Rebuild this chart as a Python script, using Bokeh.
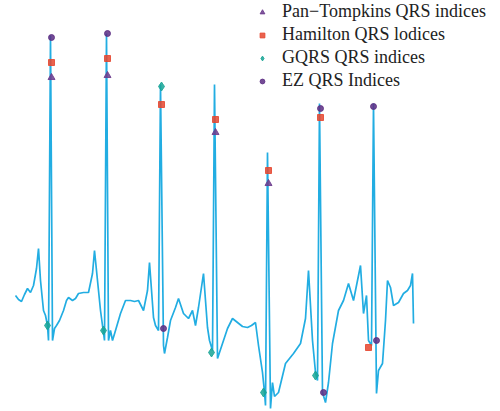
from bokeh.plotting import figure
from bokeh.models import Range1d, Legend, LegendItem
from bokeh.embed import file_html
from bokeh.resources import INLINE

# ECG trace: sample index and amplitude (mV)
ecg_t = [15, 18, 21, 24, 27, 30, 33, 36, 38, 40, 43, 45, 47, 48, 50, 52, 54, 56, 59, 63,
         66, 68, 72, 75, 78, 83, 88, 92, 94, 97, 100, 102, 104, 106, 108, 110, 112, 115, 120, 125,
         130, 134, 138, 143, 147, 149, 153, 155, 158, 160, 163, 164, 167, 170, 175, 178, 183, 188, 192, 195,
         198, 203, 207, 209, 212, 214, 217, 222, 227, 232, 237, 242, 247, 251, 255, 258, 262, 264, 265, 267,
         270, 272, 274, 278, 285, 293, 300, 305, 308, 312, 315, 317, 319, 322, 325, 328, 332, 338, 343, 348,
         353, 357, 360, 363, 366, 368, 371, 373, 376, 378, 382, 385, 387, 390, 393, 398, 403, 407, 410, 412,
         413]
ecg_mv = [0.05, 0.01, -0.01, 0.06, 0.12, 0.08, 0.15, 0.32, 0.52, 0.20, -0.10, -0.15, -0.25, -0.40, 2.65, -0.40, -0.28, -0.25, -0.20, -0.10,
          0.00, 0.03, 0.00, 0.02, 0.07, 0.08, 0.08, 0.27, 0.50, 0.20, -0.10, -0.25, -0.40, 2.67, -0.40, -0.30, -0.40, -0.30, -0.13, 0.00,
          0.00, -0.01, 0.00, -0.10, 0.10, 0.38, -0.17, -0.25, -0.30, 2.16, -0.45, -0.53, -0.37, -0.20, -0.07, 0.02, -0.13, -0.18, -0.10, -0.25,
          -0.07, 0.27, -0.27, -0.40, -0.50, 2.16, -0.58, -0.43, -0.28, -0.18, -0.22, -0.26, -0.27, -0.25, -0.22, -0.45, -0.72, -0.92, -1.05, 1.48,
          -1.08, -0.82, -0.96, -0.92, -0.63, -0.53, -0.43, -0.18, 0.30, -0.40, -0.72, -0.80, 1.97, -0.92, -1.02, -0.82, -0.43, -0.10, 0.00, 0.17,
          0.00, 0.20, 0.35, -0.13, 0.05, -0.40, -0.45, 1.97, -0.93, -0.70, -0.63, -0.20, 0.20, 0.13, -0.05, -0.02, 0.07, 0.10, 0.15, 0.27,
          -0.23]

# Detector outputs (sample index, amplitude at which the mark is drawn)
pt_t = [51, 107, 215, 268]
pt_mv = [2.23, 2.25, 1.68, 1.17]

ham_t = [51, 107, 161, 215, 268, 320, 368]
ham_mv = [2.38, 2.42, 1.96, 1.81, 1.30, 1.83, -0.47]

gqrs_t = [161, 47, 103, 211, 263, 315]
gqrs_mv = [2.14, -0.25, -0.30, -0.52, -0.92, -0.75]

ez_t = [51, 107, 320, 373, 163, 323, 376]
ez_mv = [2.63, 2.67, 1.92, 1.94, -0.28, -0.92, -0.40]

labels = ["Pan\u2212Tompkins QRS indices", "Hamilton QRS lodices", "GQRS QRS indices", "EZ QRS Indices"]

p = figure(width=500, height=411, output_backend="svg", toolbar_location=None,
           x_range=Range1d(0, 500), y_range=Range1d(-1.11, 3.00),
           min_border=0, outline_line_color=None)
p.axis.visible = False
p.grid.visible = False
p.background_fill_color = "white"

p.line(ecg_t, ecg_mv, line_color="#22ade2", line_width=1.7)

r_pt = p.scatter(pt_t, pt_mv, marker="triangle", size=7, fill_color="#6b3a8c", line_color="#6b3a8c", alpha=0.85)
r_ham = p.scatter(ham_t, ham_mv, marker="square", size=6, fill_color="#e5472f", line_color="#e5472f", alpha=0.85)
r_gq = p.scatter(gqrs_t, gqrs_mv, marker="diamond", size=9, fill_color="#17a595", line_color="#17a595", alpha=0.85)
r_ez = p.scatter(ez_t, ez_mv, marker="circle", size=6, fill_color="#5c2d82", line_color="#5c2d82", alpha=0.85)

legend = Legend(items=[LegendItem(label=labels[0], renderers=[r_pt]),
                       LegendItem(label=labels[1], renderers=[r_ham]),
                       LegendItem(label=labels[2], renderers=[r_gq]),
                       LegendItem(label=labels[3], renderers=[r_ez])],
                location=(256, 320), border_line_color=None, background_fill_alpha=0,
                padding=0, margin=0, spacing=2, glyph_height=20, glyph_width=12,
                label_height=20, label_standoff=14,
                label_text_font="Liberation Serif", label_text_font_size="18px",
                label_text_color="#222222")
p.add_layout(legend)

open("out.html", "w").write(file_html(p, INLINE))
